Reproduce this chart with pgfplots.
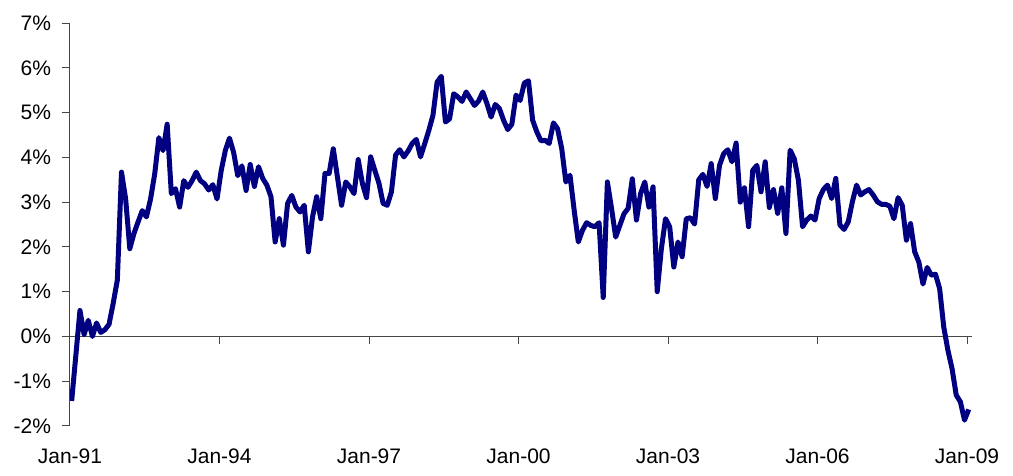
\documentclass[border=0pt]{standalone}
\usepackage{fontspec}
\setmainfont{Liberation Sans}
\usepackage{pgfplots}
\usepackage{pgfplotstable}
\pgfplotsset{compat=1.18}
\definecolor{navy}{RGB}{0,0,128}
\definecolor{axgray}{RGB}{70,70,70}
\pgfplotstableread{
m v
0 -1.44
2 0.58
3 0.04
4 0.36
5 0.00
6 0.30
7 0.09
8 0.15
9 0.27
10 0.74
11 1.26
12 3.67
13 3.07
14 1.96
15 2.30
16 2.56
17 2.81
18 2.67
19 3.07
20 3.63
21 4.44
22 4.15
23 4.74
24 3.19
25 3.30
26 2.89
27 3.48
28 3.33
29 3.48
30 3.67
31 3.48
32 3.41
33 3.27
34 3.39
35 3.07
36 3.70
37 4.15
38 4.43
39 4.11
40 3.59
41 3.81
42 3.26
43 3.84
44 3.35
45 3.79
46 3.53
47 3.38
48 3.12
49 2.11
50 2.63
51 2.04
52 2.97
53 3.15
54 2.89
55 2.78
56 2.93
57 1.89
58 2.67
59 3.12
60 2.63
61 3.64
62 3.64
63 4.19
64 3.56
65 2.93
66 3.45
67 3.34
68 3.19
69 3.95
70 3.42
71 3.10
72 4.01
73 3.71
74 3.42
75 2.97
76 2.93
77 3.23
78 4.05
79 4.17
80 4.01
81 4.14
82 4.31
83 4.40
84 4.01
85 4.30
86 4.60
87 4.94
88 5.68
89 5.81
90 4.79
91 4.86
92 5.42
93 5.35
94 5.25
95 5.46
96 5.31
97 5.16
98 5.26
99 5.46
100 5.20
101 4.90
102 5.18
103 5.09
104 4.83
105 4.62
106 4.74
107 5.39
108 5.27
109 5.66
110 5.71
111 4.83
112 4.57
113 4.37
114 4.38
115 4.31
116 4.77
117 4.64
118 4.20
119 3.45
120 3.60
121 2.82
122 2.11
123 2.37
124 2.54
125 2.48
126 2.45
127 2.54
128 0.87
129 3.45
130 2.86
131 2.22
132 2.48
133 2.74
134 2.86
135 3.52
136 2.60
137 3.19
138 3.45
139 2.89
140 3.34
141 1.00
142 1.96
143 2.63
144 2.45
145 1.55
146 2.11
147 1.78
148 2.63
149 2.65
150 2.51
151 3.50
152 3.62
153 3.35
154 3.86
155 3.08
156 3.82
157 4.08
158 4.17
159 3.90
160 4.32
161 3.00
162 3.32
163 2.45
164 3.71
165 3.82
166 3.23
167 3.90
168 2.88
169 3.28
170 2.75
171 3.32
172 2.30
173 4.16
174 3.97
175 3.49
176 2.45
177 2.60
178 2.69
179 2.60
180 3.08
181 3.28
182 3.38
183 3.08
184 3.53
185 2.49
186 2.39
187 2.56
188 3.01
189 3.38
190 3.16
191 3.23
192 3.28
193 3.16
194 3.01
195 2.95
196 2.95
197 2.91
198 2.63
199 3.10
200 2.93
201 2.15
202 2.52
203 1.89
204 1.66
205 1.17
206 1.54
207 1.37
208 1.39
209 1.07
210 0.21
211 -0.31
212 -0.72
213 -1.31
214 -1.46
215 -1.87
216 -1.63
}\datatable
\begin{document}
\begin{tikzpicture}
\useasboundingbox (-35pt,-25pt) rectangle (471.5pt,213pt);
\begin{axis}[
  at={(0,0)}, anchor=south west,
  scale only axis, width=451pt, height=201.5pt,
  xmin=0, xmax=217.2, ymin=-2, ymax=7,
  axis y line*=left, axis x line*=bottom,
  x axis line style={draw=none},
  y axis line style={axgray, line width=0.5pt},
  major x tick style={draw=none},
  major y tick style={axgray, line width=0.5pt},
  tick align=outside, major tick length=4pt,
  xtick={0,36,72,108,144,180,216},
  xticklabels={Jan-91,Jan-94,Jan-97,Jan-00,Jan-03,Jan-06,Jan-09},
  ytick={-2,-1,0,1,2,3,4,5,6,7},
  yticklabels={-2\%,-1\%,0\%,1\%,2\%,3\%,4\%,5\%,6\%,7\%},
  tick label style={font=\fontsize{10.5}{12}\selectfont, black},
  xticklabel style={yshift=-4pt},
  yticklabel style={xshift=-2pt},
]
\draw[axgray, line width=0.5pt] (axis cs:0,0) -- (axis cs:217.2,0);
\pgfplotsinvokeforeach{36,72,108,144,180,216}{\draw[axgray, line width=0.5pt] (axis cs:#1,0) -- ([yshift=-4pt]axis cs:#1,0);}
\addplot[navy, line width=2.5pt, line join=round, mark=none]
  table[x expr=\thisrow{m}+0.4, y=v] {\datatable};
\end{axis}
\end{tikzpicture}
\end{document}
